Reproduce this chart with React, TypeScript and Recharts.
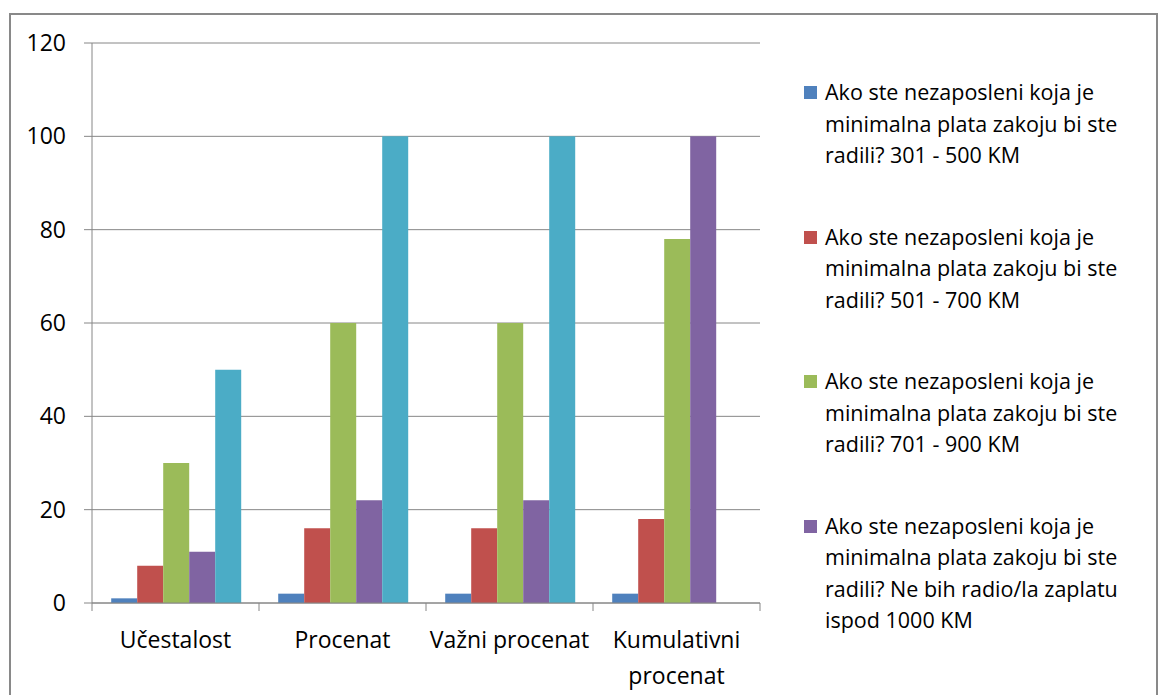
import { BarChart, Bar, XAxis, YAxis, CartesianGrid } from "recharts";

const categories = ["Učestalost", "Procenat", "Važni procenat", "Kumulativni procenat"];
const s301 = [1, 2, 2, 2];
const s501 = [8, 16, 16, 18];
const s701 = [30, 60, 60, 78];
const sNe = [11, 22, 22, 100];
const sTotal = [50, 100, 100, null];
const yTicks = [0, 20, 40, 60, 80, 100, 120];

const legendItems = [
  { name: "Ako ste nezaposleni koja je minimalna plata zakoju bi ste radili? 301 - 500 KM", lines: ["Ako ste nezaposleni koja je", "minimalna plata zakoju bi ste", "radili? 301 - 500 KM"], color: "#4F81BD" },
  { name: "Ako ste nezaposleni koja je minimalna plata zakoju bi ste radili? 501 - 700 KM", lines: ["Ako ste nezaposleni koja je", "minimalna plata zakoju bi ste", "radili? 501 - 700 KM"], color: "#C0504D" },
  { name: "Ako ste nezaposleni koja je minimalna plata zakoju bi ste radili? 701 - 900 KM", lines: ["Ako ste nezaposleni koja je", "minimalna plata zakoju bi ste", "radili? 701 - 900 KM"], color: "#9BBB59" },
  { name: "Ako ste nezaposleni koja je minimalna plata zakoju bi ste radili? Ne bih radio/la zaplatu ispod 1000 KM", lines: ["Ako ste nezaposleni koja je", "minimalna plata zakoju bi ste", "radili? Ne bih radio/la zaplatu", "ispod 1000 KM"], color: "#8064A2" },
];

const data = categories.map((c, i) => ({
  name: c,
  a: s301[i],
  b: s501[i],
  c: s701[i],
  d: sNe[i],
  e: sTotal[i],
}));

const FONT = "'Open Sans', sans-serif";
const GRID = "#868686";
const PLOT_LEFT = 92;
const PLOT_RIGHT = 760;

function XTick(props: any) {
  const { x, y, payload, index } = props;
  const band = (PLOT_RIGHT - PLOT_LEFT) / categories.length;
  const half = band / 2;
  const label: string = payload.value;
  const cut = label.lastIndexOf(" ");
  const lines = label.length > 15 ? [label.slice(0, cut), label.slice(cut + 1)] : [label];
  return (
    <g>
      <line x1={x - half} x2={x - half} y1={y} y2={y + 8} stroke={GRID} />
      {index === categories.length - 1 && <line x1={x + half} x2={x + half} y1={y} y2={y + 8} stroke={GRID} />}
      {lines.map((l, i) => (
        <text key={i} x={x} y={y + 36 + i * 36} textAnchor="middle" dominantBaseline="central" fontFamily={FONT} fontSize={23} fill="#000">
          {l}
        </text>
      ))}
    </g>
  );
}

export default function App() {
  return (
    <div style={{ position: "absolute", left: 0, top: 0, width: 1162, height: 695, overflow: "hidden", background: "#fff" }}>
      <div style={{ position: "absolute", left: 9, top: 13, width: 1149, height: 700, border: "2px solid #898989", boxSizing: "border-box" }} />
      <div style={{ position: "absolute", left: 0, top: 0 }}>
        <BarChart width={1162} height={695} data={data} margin={{ top: 43, right: 402, bottom: 42, left: 32 }} barCategoryGap="11.5%" barGap={0}>
          <CartesianGrid vertical={false} stroke={GRID} strokeWidth={1} />
          <XAxis dataKey="name" height={50} axisLine={{ stroke: GRID }} tickLine={false} tickSize={0} tickMargin={0} tick={<XTick />} interval={0} />
          <YAxis
            width={60}
            domain={[0, 120]}
            ticks={yTicks}
            axisLine={{ stroke: GRID }}
            tickLine={{ stroke: GRID }}
            tickSize={8}
            tickMargin={18}
            tick={{ fontFamily: FONT, fontSize: 23, fill: "#000" }}
          />
          <Bar dataKey="a" fill="#4F81BD" isAnimationActive={false} />
          <Bar dataKey="b" fill="#C0504D" isAnimationActive={false} />
          <Bar dataKey="c" fill="#9BBB59" isAnimationActive={false} />
          <Bar dataKey="d" fill="#8064A2" isAnimationActive={false} />
          <Bar dataKey="e" fill="#4BACC6" isAnimationActive={false} />
        </BarChart>
      </div>
      <div style={{ position: "absolute", left: 804, top: 76, fontFamily: FONT, fontSize: 21.5, color: "#000" }}>
        {legendItems.map((it) => (
          <div key={it.name} style={{ position: "relative", height: 144.5 }}>
            <span style={{ position: "absolute", left: 0, top: 10, width: 13, height: 13, background: it.color }} />
            <div style={{ marginLeft: 21, lineHeight: "31.5px" }}>
              {it.lines.map((l) => (
                <div key={l} style={{ whiteSpace: "nowrap" }}>{l}</div>
              ))}
            </div>
          </div>
        ))}
      </div>
    </div>
  );
}
